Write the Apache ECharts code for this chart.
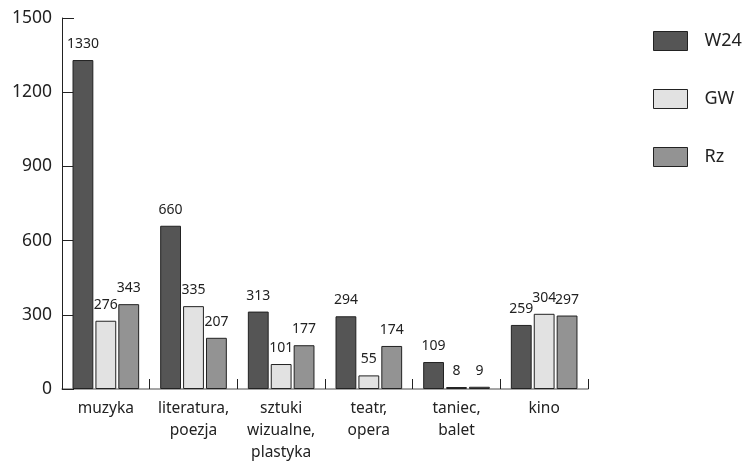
<!DOCTYPE html>
<html>
<head>
<meta charset="utf-8">
<script src="https://cdn.jsdelivr.net/npm/echarts@6/dist/echarts.min.js"></script>
<style>
  html, body { margin: 0; padding: 0; background: #fff; }
  #chart { width: 748px; height: 464px; }
</style>
</head>
<body>
<div id="chart"></div>
<script>
const categories = ['muzyka', 'literatura,\npoezja', 'sztuki\nwizualne,\nplastyka', 'teatr,\nopera', 'taniec,\nbalet', 'kino'];
const seriesNames = ['W24', 'GW', 'Rz'];
const w24 = [1330, 660, 313, 294, 109, 259];
const gw = [276, 335, 101, 55, 8, 304];
const rz = [343, 207, 177, 174, 9, 297];
const yTicks = [0, 300, 600, 900, 1200, 1500];

const colors = ['#555555', '#e2e2e2', '#939393'];
const font = 'Noto Sans, sans-serif';

const chart = echarts.init(document.getElementById('chart'));

function barSeries(name, data, color) {
  return {
    name: name,
    type: 'bar',
    data: data,
    barGap: '10%',
    barCategoryGap: '24%',
    itemStyle: { color: color, borderColor: '#222', borderWidth: 1 },
    label: {
      show: true,
      position: 'top',
      distance: 9,
      color: '#222',
      fontFamily: font,
      fontSize: 14
    }
  };
}

chart.setOption({
  animation: false,
  textStyle: { fontFamily: font },
  grid: { left: 62, right: 160, top: 18, bottom: 71, containLabel: false },
  legend: {
    orient: 'vertical',
    left: 648,
    top: 26,
    icon: 'rect',
    itemWidth: 34,
    itemHeight: 19,
    itemGap: 38,
    textStyle: { fontFamily: font, fontSize: 18, color: '#222', padding: [0, 0, 0, 12] },
    data: seriesNames.map((n, i) => ({ name: n, itemStyle: { color: colors[i], borderColor: '#222', borderWidth: 1 } }))
  },
  xAxis: {
    type: 'category',
    data: categories,
    axisLine: { lineStyle: { color: '#888', width: 1.5 } },
    axisTick: { show: true, inside: true, length: 10, lineStyle: { color: '#222' } },
    axisLabel: { interval: 0, hideOverlap: false, color: '#222', fontFamily: font, fontSize: 15.5, lineHeight: 22, margin: 9 }
  },
  yAxis: {
    type: 'value',
    min: yTicks[0],
    max: yTicks[yTicks.length - 1],
    interval: 300,
    splitLine: { show: false },
    axisLine: { show: true, lineStyle: { color: '#222' } },
    axisTick: { show: true, inside: true, length: 12, lineStyle: { color: '#222' } },
    axisLabel: { color: '#222', fontFamily: font, fontSize: 17.5, margin: 10, padding: [3, 0, 0, 0], formatter: v => String(v) }
  },
  series: [
    barSeries(seriesNames[0], w24, colors[0]),
    barSeries(seriesNames[1], gw, colors[1]),
    barSeries(seriesNames[2], rz, colors[2])
  ]
});
</script>
</body>
</html>
